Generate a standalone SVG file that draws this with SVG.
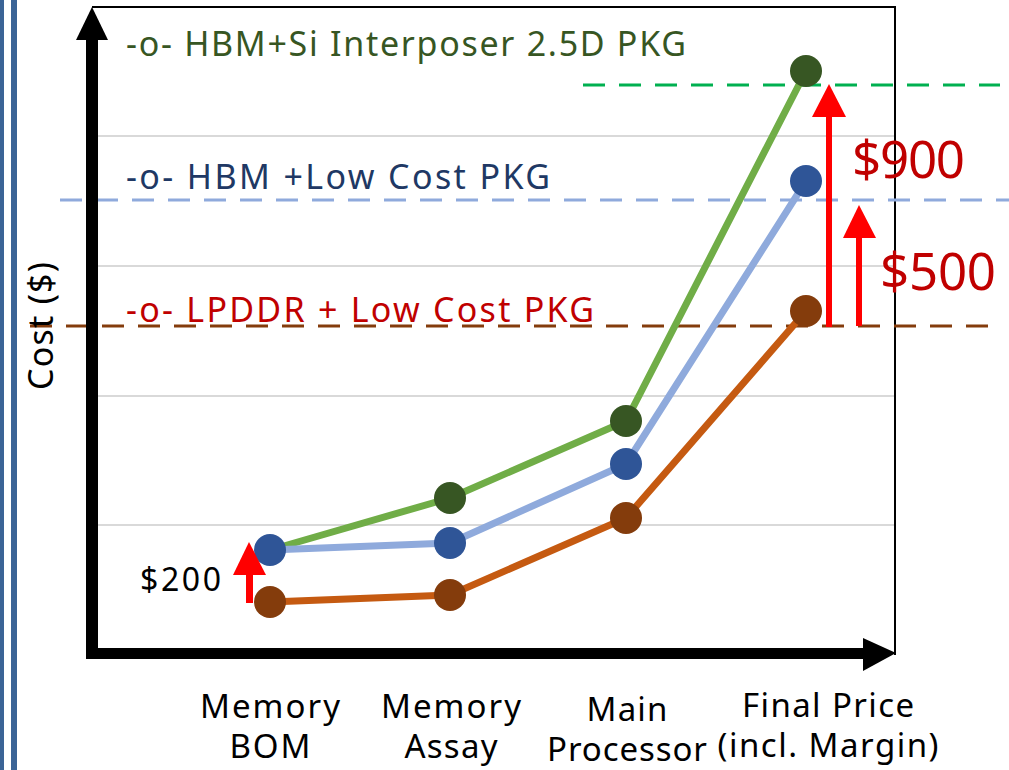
<svg xmlns="http://www.w3.org/2000/svg" width="1009" height="770" viewBox="0 0 1009 770">
  <style>
    .lbl { font-family: "Noto Sans", "Open Sans", sans-serif; }
    .grid { stroke: #d9d9d9; stroke-width: 2; }
    .dash { stroke-width: 3; stroke-dasharray: 22 14; fill: none; }
    .series { fill: none; stroke-width: 7; stroke-linejoin: round; }
    .axis-t { font-size: 33px; fill: #000; text-anchor: middle; }
    .legend { font-size: 34px; }
    .delta { font-size: 51px; fill: #c00000; }
  </style>
  <rect width="1009" height="770" fill="#fff"/>

  <!-- page border bars -->
  <rect x="0" y="0" width="4" height="770" fill="#3b6496"/>
  <rect x="11" y="0" width="6" height="770" fill="#3b6496"/>

  <!-- plot frame and grid -->
  <g id="plot-area">
    <polyline points="92,7 895,7 895,655" fill="none" stroke="#000" stroke-width="2"/>
    <line class="grid" x1="98" y1="136" x2="894" y2="136"/>
    <line class="grid" x1="98" y1="266" x2="894" y2="266"/>
    <line class="grid" x1="98" y1="396" x2="894" y2="396"/>
    <line class="grid" x1="98" y1="525" x2="894" y2="525"/>
  </g>

  <!-- reference levels -->
  <g id="levels">
    <line class="dash" x1="583" y1="85" x2="1000" y2="85" stroke="#00b050"/>
    <line class="dash" x1="60" y1="200" x2="1009" y2="200" stroke="#8faadc"/>
    <line class="dash" x1="30" y1="326" x2="1000" y2="326" stroke="#843c0c"/>
  </g>

  <!-- axes -->
  <g id="axes">
    <rect x="86" y="38" width="12" height="621" fill="#000"/>
    <polygon points="92,7 76,40 108,40" fill="#000"/>
    <rect x="86" y="648" width="780" height="11" fill="#000"/>
    <polygon points="896,653 863,638 863,671" fill="#000"/>
  </g>

  <!-- data series -->
  <g id="connectors">
    <polyline class="series" stroke="#70ad47" points="270,550 450,498 626,421 806,71"/>
    <polyline class="series" stroke="#8faadc" points="270,550 450,543 626,464 806,181"/>
    <polyline class="series" stroke="#c55a11" points="270,602 450,595 626,518 806,311"/>
  </g>

  <g id="series-hbm-si" fill="#375623">
    <circle cx="450" cy="498" r="16"/>
    <circle cx="626" cy="421" r="16"/>
    <circle cx="806" cy="71" r="16"/>
  </g>
  <g id="series-hbm-low" fill="#2f5597">
    <circle cx="270" cy="550" r="16"/>
    <circle cx="450" cy="543" r="16"/>
    <circle cx="626" cy="464" r="16"/>
    <circle cx="806" cy="181" r="16"/>
  </g>
  <g id="series-lpddr" fill="#843c0c">
    <circle cx="270" cy="602" r="16"/>
    <circle cx="450" cy="595" r="16"/>
    <circle cx="626" cy="518" r="16"/>
    <circle cx="806" cy="311" r="16"/>
  </g>

  <!-- cost delta arrows -->
  <g id="deltas" fill="#ff0000">
    <rect x="826" y="110" width="6" height="217"/>
    <polygon points="829,84 812,117 846,117"/>
    <rect x="856" y="232" width="6" height="94"/>
    <polygon points="859,205 843,238 876,238"/>
    <rect x="246" y="570" width="7" height="33"/>
    <polygon points="249,542 233,575 266,575"/>
  </g>

  <!-- legend texts -->
  <g id="legend" class="lbl legend">
    <text x="126" y="56" fill="#375623" textLength="560" lengthAdjust="spacing">-o- HBM+Si Interposer 2.5D PKG</text>
    <text x="126" y="189" fill="#203864" textLength="424" lengthAdjust="spacing">-o- HBM +Low Cost PKG</text>
    <text x="126" y="322" fill="#c00000" textLength="468" lengthAdjust="spacing">-o- LPDDR + Low Cost PKG</text>
  </g>

  <g id="delta-labels" class="lbl">
    <text class="delta" x="852" y="178" textLength="113" lengthAdjust="spacing">$900</text>
    <text class="delta" x="880" y="290" textLength="116" lengthAdjust="spacing">$500</text>
    <text x="140" y="591" font-size="32" fill="#000" textLength="81" lengthAdjust="spacing">$200</text>
  </g>

  <text class="lbl" transform="translate(53,326) rotate(-90)" font-size="34" text-anchor="middle" fill="#000" textLength="128" lengthAdjust="spacing">Cost ($)</text>

  <!-- category labels -->
  <g id="categories" class="lbl axis-t">
    <text x="270" y="718" textLength="140" lengthAdjust="spacing">Memory</text>
    <text x="270" y="758" textLength="81" lengthAdjust="spacing">BOM</text>
    <text x="451" y="718" textLength="140" lengthAdjust="spacing">Memory</text>
    <text x="451" y="758" textLength="93" lengthAdjust="spacing">Assay</text>
    <text x="627" y="721" textLength="81" lengthAdjust="spacing">Main</text>
    <text x="627" y="761" textLength="160" lengthAdjust="spacing">Processor</text>
    <text x="828" y="717" textLength="172" lengthAdjust="spacing">Final Price</text>
    <text x="828" y="757" textLength="221" lengthAdjust="spacing">(incl. Margin)</text>
  </g>
</svg>
